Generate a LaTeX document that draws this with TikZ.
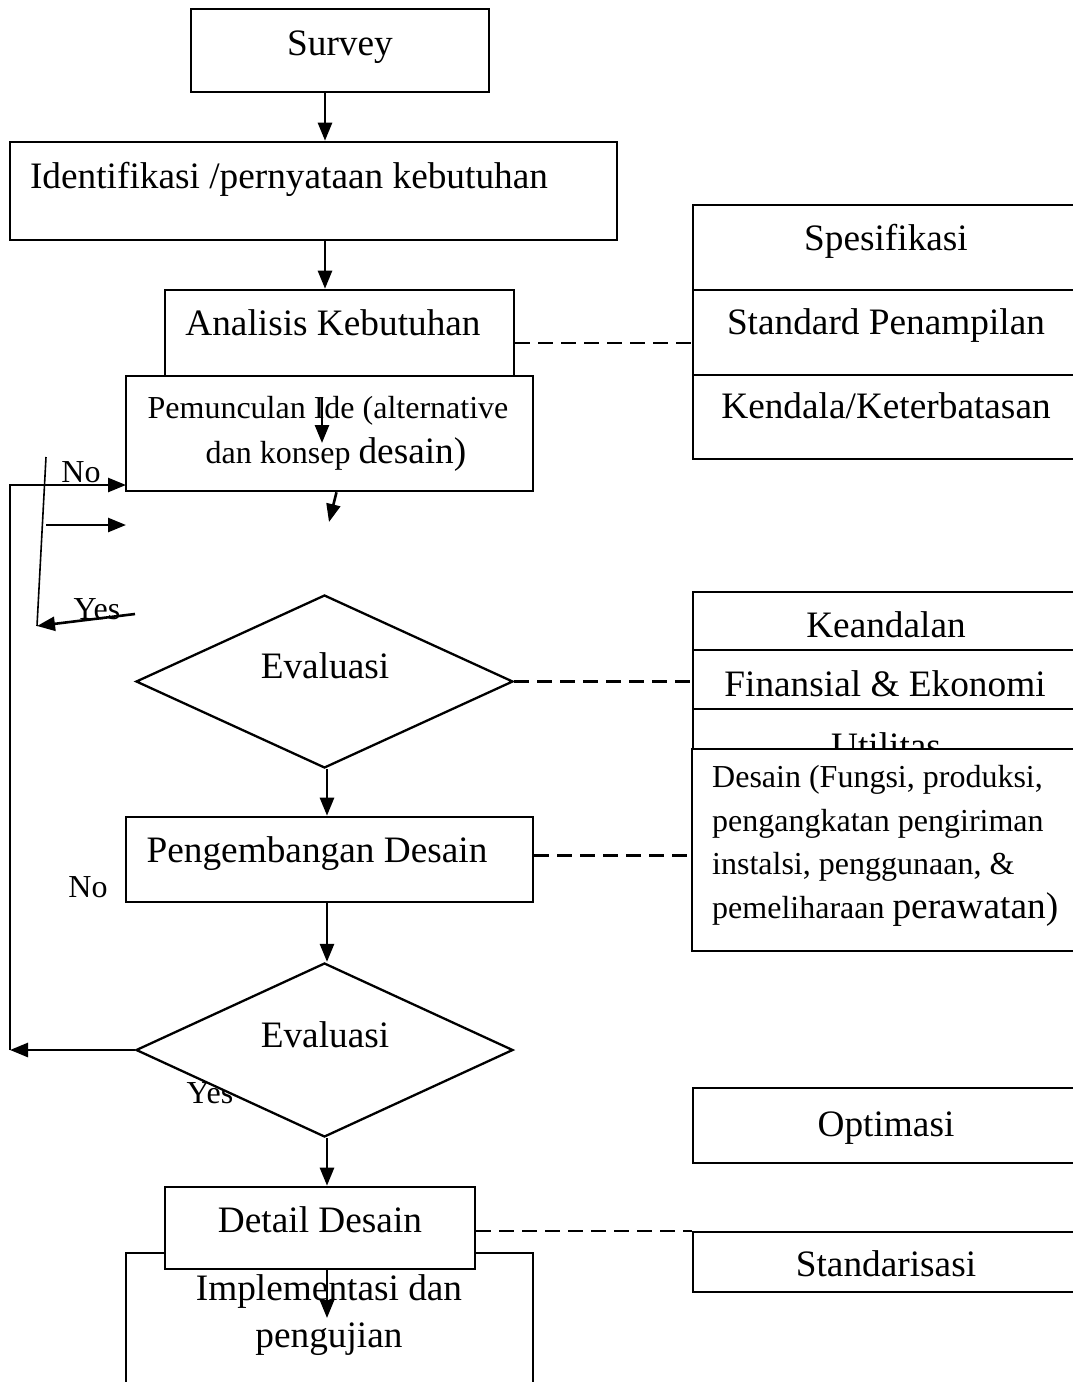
\documentclass[tikz,border=0pt]{standalone}
\usepackage{fontspec}
\setmainfont{Liberation Serif}
\usepackage{tikz}
\usetikzlibrary{arrows.meta, positioning, shapes.geometric}
\newcommand{\bigtxt}{\fontsize{37.3}{44}\selectfont}
\newcommand{\smalltxt}{\fontsize{32}{43.5}\selectfont}

\begin{document}
\begin{tikzpicture}[x=1pt, y=-1pt,
    box/.style={draw, line width=2.6pt, fill=white, inner sep=0pt},
    decide/.style={draw, diamond, line width=2.3pt, fill=white, inner sep=0pt},
    txt/.style={inner sep=0pt, anchor=base, font=\bigtxt},
    lbl/.style={inner sep=0pt, anchor=base, font=\smalltxt},
    arr/.style={line width=2.6pt, -{Triangle[length=18pt, width=14pt]}},
    link/.style={line width=2.3pt, dash pattern=on 15pt off 8pt}]
    \useasboundingbox (0,0) rectangle (1073,1382);

    % alur utama
    \node[box, minimum width=298, minimum height=83] (survey) at (340,50.5) {};
    \node[txt] (t-survey) at (340,55) {Survey};
    \node[box, minimum width=607, minimum height=98] (ident) at (313.5,191) {};
    \node[txt] (t-ident) at (289,188) {Identifikasi /pernyataan kebutuhan};
    \node[box, minimum width=349, minimum height=106] (anal) at (339.5,343) {};
    \node[txt] (t-anal) at (333,335) {Analisis Kebutuhan};
    \node[box, minimum width=407, minimum height=115] (ide) at (329.5,433.5) {};
    \node[lbl] (t-ide1) at (328,418) {Pemunculan Ide (alternative};
    \node[lbl] (t-ide2) at (336,463) {dan konsep {\bigtxt desain)}};

    % kotak kanan atas
    \node[box, minimum width=400, minimum height=85] (spec) at (893,247.5) {};
    \node[txt] (t-spec) at (886,250) {Spesifikasi};
    \node[box, minimum width=400, minimum height=85] (stdp) at (893,332.5) {};
    \node[txt] (t-stdp) at (886,334) {Standard Penampilan};
    \node[box, minimum width=400, minimum height=84] (kend) at (893,417) {};
    \node[txt] (t-kend) at (886,418) {Kendala/Keterbatasan};

    % label No / Yes
    \node[lbl] (t-no1) at (81,482) {No};
    \node[lbl] (t-yes1) at (97,619) {Yes};

    % evaluasi pertama
    \node[decide, minimum width=377, minimum height=173] (eval1) at (324.5,681.5) {};
    \node[txt] (t-eval1) at (325,678) {Evaluasi};

    % kotak kanan tengah
    \node[box, minimum width=400, minimum height=58] (keand) at (893,621) {};
    \node[txt] (t-keand) at (886,637) {Keandalan};
    \node[box, minimum width=400, minimum height=59] (fin) at (893,679.5) {};
    \node[txt] (t-fin) at (885,696) {Finansial \& Ekonomi};
    \node[box, minimum width=400, minimum height=80] (util) at (893,749) {};
    \node[txt] (t-util) at (886,758) {Utilitas};
    \node[box, minimum width=400, minimum height=202] (des) at (892,850) {};
    \node[lbl, anchor=base west] (t-des1) at (712,787) {Desain (Fungsi, produksi,};
    \node[lbl, anchor=base west] (t-des2) at (712,831) {pengangkatan pengiriman};
    \node[lbl, anchor=base west] (t-des3) at (712,874) {instalsi, penggunaan, \&};
    \node[lbl, anchor=base west] (t-des4) at (712,918) {pemeliharaan {\bigtxt perawatan)}};

    % pengembangan dan evaluasi kedua
    \node[box, minimum width=407, minimum height=85] (dev) at (329.5,859.5) {};
    \node[txt] (t-dev) at (317,862) {Pengembangan Desain};
    \node[lbl] (t-no2) at (88,897) {No};
    \node[lbl] (t-yes2) at (210,1103) {Yes};
    \node[decide, minimum width=377, minimum height=174] (eval2) at (324.5,1050) {};
    \node[txt] (t-eval2) at (325,1047) {Evaluasi};

    % kotak kanan bawah
    \node[box, minimum width=400, minimum height=75] (opt) at (893,1125.5) {};
    \node[txt] (t-opt) at (886,1136) {Optimasi};
    \node[box, minimum width=400, minimum height=60] (stdr) at (893,1262) {};
    \node[txt] (t-stdr) at (886,1276) {Standarisasi};

    % detail dan implementasi
    \node[box, minimum width=407, minimum height=150] (impl) at (329.5,1328) {};
    \node[txt] (t-impl1) at (329,1300) {Implementasi dan};
    \node[txt] (t-impl2) at (329,1347) {pengujian};
    \node[box, minimum width=310, minimum height=82] (detail) at (320,1228) {};
    \node[txt] (t-detail) at (320,1232) {Detail Desain};

    % titik bantu
    \coordinate (colA) at (325,0);
    \coordinate (colB) at (327,0);
    \coordinate (ideTip) at (322,443);
    \coordinate (evalTip) at (329,522);
    \coordinate (loopX) at (10,0);
    \coordinate (noIn) at (126,485);
    \coordinate (slantTop) at (46,457);
    \coordinate (slantBot) at (37,626);
    \coordinate (midOut) at (46,525);
    \coordinate (midIn) at (126,525);
    \coordinate (yesOut) at (135,614);
    \coordinate (implTip) at (327,1318);

    % panah
    \draw[arr] (survey.south -| colA) -- (ident.north -| colA);
    \draw[arr] (ident.south -| colA) -- (anal.north -| colA);
    \draw[arr] (anal.south -| ideTip) -- (ideTip);
    \draw[arr] ([xshift=7pt]ide.south) -- (evalTip);
    \draw[arr] (eval1.south -| colB) -- (dev.north -| colB);
    \draw[arr] (dev.south -| colB) -- (eval2.north -| colB);
    \draw[arr] (eval2.south -| colB) -- (detail.north -| colB);
    \draw[arr] (detail.south -| colB) -- (implTip);
    \draw[arr] (eval2.west) -- (eval2.west -| loopX);
    \draw[arr] (eval2.west -| loopX) -- (loopX |- noIn) -- (noIn);
    \draw[line width=1.6pt] (slantTop) -- (slantBot);
    \draw[arr] (midOut) -- (midIn);
    \draw[arr] (yesOut) -- (slantBot);

    % garis putus-putus
    \draw[link] (anal.east) -- (anal.east -| stdp.west);
    \draw[link] (eval1.east) -- (eval1.east -| fin.west);
    \draw[link] ([yshift=4pt]dev.east) -- ([yshift=4pt]dev.east -| des.west);
    \draw[link] ([yshift=-3pt]detail.east) -- ([yshift=-3pt]detail.east -| stdr.west);
\end{tikzpicture}
\end{document}
